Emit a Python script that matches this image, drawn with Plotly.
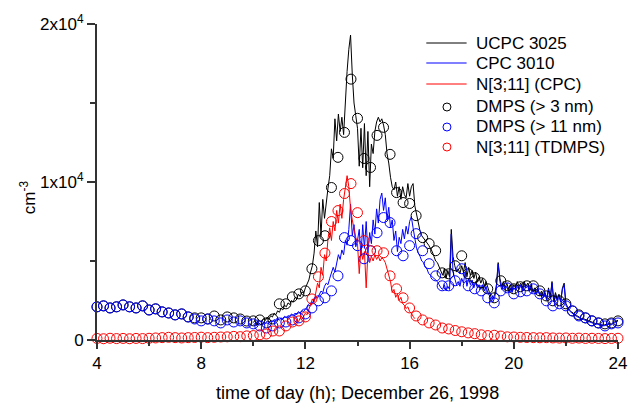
import numpy as np
import plotly.graph_objects as go

# ---- DMPS size-distribution integrals, 15-min resolution from 04:00 to 24:00 ----
dmps_gt3 = [2100, 2160, 2030, 2100, 2220, 2100, 2030, 2160, 1900, 1970, 1780, 1710, 1590, 1650, 1460, 1400,
            1400, 1330, 1520, 1270, 1460, 1400, 1330, 1200, 1210, 1270, 1080, 1330, 2290, 2290, 2730, 2920,
            3110, 4510, 6290, 6600, 9650, 11560, 13140, 16510, 14030, 11490, 10920, 12950, 13460, 11750, 9330, 8700,
            8640, 7870, 6480, 6100, 5650, 4250, 4190, 4700, 5330, 4190, 3940, 3620, 3240, 2670, 3750, 3430,
            3240, 3370, 3430, 3430, 3110, 2790, 2480, 2480, 2290, 1840, 1590, 1400, 1210, 1080, 1020, 1080,
            1210]
dmps_gt11 = [2100, 2160, 2030, 2100, 2220, 2100, 2030, 2160, 1900, 1970, 1780, 1710, 1590, 1650, 1460, 1330,
             1210, 1330, 1210, 1080, 1270, 1140, 1210, 1080, 1020, 890, 760, 890, 1080, 1140, 1270, 1400,
             1650, 2030, 2480, 2670, 3110, 4060, 6480, 6290, 5970, 5140, 5650, 6790, 7750, 7430, 5650, 5330,
             5970, 6730, 5650, 4830, 4060, 3430, 3430, 3750, 4510, 3430, 3240, 3110, 2670, 2350, 3110, 3300,
             2920, 3050, 3110, 3240, 2920, 2480, 2160, 2290, 2160, 1840, 1520, 1400, 1210, 1080, 890, 1020,
             1080]
dmps_3_11 = [100, 80, 110, 90, 100, 80, 100, 90, 110, 130, 150, 170, 150, 130, 150, 160,
             180, 150, 170, 190, 200, 230, 210, 260, 280, 330, 380, 570, 570, 890, 1140, 1210,
             1460, 2600, 4000, 5500, 7500, 8190, 9270, 9900, 8060, 6290, 5650, 5650, 5520, 4060, 3240, 2670,
             2030, 1520, 1270, 1080, 950, 760, 700, 600, 520, 450, 400, 330, 280, 300, 250, 200,
             190, 170, 160, 150, 140, 150, 130, 120, 130, 110, 120, 100, 110, 100, 90, 100,
             110]

# ---- CPC counters, 4-min averages from 10:00 to 24:00 (one row per hour) ----
ucpc_3025 = (
    [1100, 1250, 1050, 1300, 1150, 1200, 1350, 1250, 1450, 1300, 1550, 1450, 1700, 1600, 1850]
    + [1750, 2000, 1900, 2200, 2100, 2350, 2250, 2500, 2400, 2700, 2600, 2900, 2750, 3050, 2950]
    + [3300, 3600, 3800, 4300, 4700, 5500, 6900, 5900, 8700, 6600, 8900, 7700, 8800, 9600, 10400]
    + [12100, 11500, 14000, 12600, 14300, 13200, 14100, 13000, 15300, 17000, 18400, 19300, 16800, 15000, 14200]
    + [13400, 11000, 13400, 10900, 13700, 10400, 13200, 9700, 12400, 11800, 13200, 13800, 14100, 13800, 14000]
    + [13600, 13000, 11800, 11200, 10300, 9700, 9500, 10000, 9100, 9700, 8900, 9700, 9200, 9000, 9900]
    + [9100, 9700, 9900, 8500, 7900, 7300, 6900, 6600, 6450, 6300, 6200, 6000, 5800, 5600, 5300]
    + [5000, 4900, 4600, 4300, 4100, 4500, 3900, 4400, 4000, 7000, 5300, 4700, 4300, 4500, 4200]
    + [4700, 4300, 4900, 4000, 4600, 4100, 4400, 3900, 4300, 3700, 4000, 3600, 3900, 3400, 3700]
    + [3300, 3000, 2700, 2600, 2900, 3500, 4900, 3900, 3400, 3700, 3300, 3600, 3200, 3500, 3100]
    + [3500, 3300, 3700, 3400, 3600, 3300, 3700, 3400, 3600, 3200, 3500, 3100, 3300, 3000, 3200]
    + [2900, 3100, 2800, 3000, 2600, 3300, 2700, 3700, 2500, 3000, 2600, 2900, 2500, 3300, 3600]
    + [2300, 2100, 1900, 1800, 1700, 1600, 1550, 1500, 1400, 1350, 1350, 1300, 1250, 1200, 1150]
    + [1150, 1100, 1050, 1050, 1000, 1000, 950, 950, 1000, 1000, 1050, 1000, 1100, 1150, 1200]
    + [1250]
)
cpc_3010 = (
    [950, 1050, 900, 1100, 1000, 950, 1150, 1050, 1200, 1100, 1250, 1150, 1300, 1200, 1350]
    + [1250, 1400, 1300, 1500, 1400, 1550, 1450, 1650, 1550, 1700, 1600, 1800, 1700, 1850, 1800]
    + [1950, 2050, 2200, 2150, 2400, 2500, 2700, 2650, 2900, 3100, 3000, 3400, 3600, 3500, 3900]
    + [4200, 4600, 4300, 5000, 5400, 5100, 5700, 5400, 6300, 6000, 7000, 8600, 6600, 7300, 5900]
    + [6300, 7000, 5300, 7300, 5800, 7500, 5500, 6800, 6100, 7600, 6700, 8300, 7400, 8900, 9300]
    + [8200, 9000, 7600, 8400, 7100, 7600, 6300, 6900, 5600, 6500, 6100, 7000, 6400, 7200, 6700]
    + [7500, 7800, 7100, 6300, 5800, 5500, 5300, 5000, 4900, 4600, 4500, 4200, 4100, 4000, 3900]
    + [3800, 3700, 3500, 3300, 3200, 3500, 3100, 3400, 3200, 6700, 4300, 3800, 3500, 3700, 3400]
    + [3900, 3600, 4300, 3400, 3900, 3500, 3800, 3300, 3700, 3300, 3500, 3200, 3500, 3100, 3400]
    + [3000, 2800, 2500, 2400, 2700, 3300, 4800, 3700, 3200, 3500, 3200, 3400, 3000, 3300, 3000]
    + [3300, 3200, 3500, 3200, 3500, 3100, 3600, 3300, 3400, 3100, 3400, 3000, 3200, 2900, 3100]
    + [2800, 3000, 2700, 2900, 2500, 3200, 2600, 3600, 2400, 2900, 2500, 2800, 2400, 3200, 3500]
    + [2200, 2000, 1850, 1750, 1650, 1550, 1500, 1450, 1350, 1300, 1300, 1250, 1200, 1150, 1100]
    + [1100, 1050, 1000, 1000, 950, 950, 900, 900, 950, 950, 1000, 950, 1050, 1100, 1150]
    + [1200]
)
# N[3;11] from the two counters, 4-min averages from 11:36 to 16:12
cpc_3_11 = (
    [1100, 1250, 1150, 1400, 1300, 1550]
    + [1700, 1600, 1950, 2200, 2600, 2400, 3100, 3600, 3300, 4600, 4100, 5400, 5000, 6400, 7100]
    + [6300, 7500, 6900, 8200, 7400, 8600, 7700, 8900, 9600, 10400, 9700, 8300, 7600, 6900, 6500]
    + [6100, 4200, 5800, 5100, 5600, 3300, 5500, 4900, 5300, 5000, 5400, 5100, 5300, 5000, 5200]
    + [5100, 4900, 4500, 4200, 3700, 3000, 3200, 2700, 2900, 2500, 2700, 2300, 2200, 2000, 2100]
    + [1800, 1700, 1500, 1350]
)

# time bases (hours of day)
t_dmps = 4.0 + 0.25 * np.arange(len(dmps_gt3))
t_cpc = 10.0 + np.arange(len(ucpc_3025)) / 15.0
t_cpc_3_11 = 11.6 + np.arange(len(cpc_3_11)) / 15.0

x_ticks = [4, 8, 12, 16, 20, 24]
y_ticks = [0, 10000, 20000]
y_ticktext = ["0", "1x10<sup>4</sup>", "2x10<sup>4</sup>"]

BLACK, BLUE, RED = "#000000", "#0000ff", "#ff0000"
FONT = "Arial, Liberation Sans, sans-serif"

# page geometry (pixels) used to place the key box
W, H = 638, 403
ML, MR, MT, MB = 97, 11, 24, 63
PW, PH = W - ML - MR, H - MT - MB


def px_x(px):
    return (px - ML) / PW


def px_y(py):
    return (H - MB - py) / PH


fig = go.Figure()
line_series = [
    ("UCPC 3025", t_cpc, ucpc_3025, BLACK),
    ("CPC 3010", t_cpc, cpc_3010, BLUE),
    ("N[3;11] (CPC)", t_cpc_3_11, cpc_3_11, RED),
]
marker_series = [
    ("DMPS (> 3 nm)", dmps_gt3, BLACK),
    ("DMPS (> 11 nm)", dmps_gt11, BLUE),
    ("N[3;11] (TDMPS)", dmps_3_11, RED),
]
for name, t, y, c in line_series:
    fig.add_trace(go.Scatter(x=t, y=y, mode="lines", name=name, showlegend=False,
                             line=dict(color=c, width=1)))
for name, y, c in marker_series:
    fig.add_trace(go.Scatter(x=t_dmps, y=y, mode="markers", name=name, cliponaxis=False,
                             showlegend=False,
                             marker=dict(symbol="circle-open", size=10, color=c,
                                         line=dict(width=1, color=c))))

# key: line samples / open circles with labels
key_rows = [43, 63, 84, 107, 127, 147]
shapes = []
annotations = []
for i, (row_y, (name, c)) in enumerate(zip(key_rows,
                                         [(s[0], s[3]) for s in line_series] +
                                         [(s[0], s[2]) for s in marker_series])):
    if i < 3:
        shapes.append(dict(type="line", xref="paper", yref="paper",
                           x0=px_x(432), x1=px_x(473), y0=px_y(row_y), y1=px_y(row_y),
                           line=dict(color=c, width=1)))
    else:
        shapes.append(dict(type="circle", xref="paper", yref="paper",
                           xsizemode="pixel", ysizemode="pixel",
                           xanchor=px_x(453), yanchor=px_y(row_y),
                           x0=-4, x1=4, y0=-4, y1=4,
                           line=dict(color=c, width=1)))
    annotations.append(dict(text=name, xref="paper", yref="paper",
                            x=px_x(481), y=px_y(row_y), xanchor="left", yanchor="middle",
                            showarrow=False, font=dict(family=FONT, size=17, color="#000000")))

axis_common = dict(showgrid=False, zeroline=False, showline=True, linecolor="#333333",
                   linewidth=2, ticks="outside", tickcolor="#333333", tickwidth=1.5,
                   tickfont=dict(family=FONT, size=17, color="#000000"))

fig.update_xaxes(range=[4, 24], tickvals=x_ticks, ticklen=7,
                 minor=dict(ticks="outside", tickvals=[6, 10, 14, 18, 22], ticklen=4,
                            tickcolor="#333333", tickwidth=1.5),
                 **axis_common)
fig.update_yaxes(range=[0, 20000], tickvals=y_ticks, ticktext=y_ticktext, ticklen=8,
                 minor=dict(ticks="outside", tickvals=[5000, 15000], ticklen=5,
                            tickcolor="#333333", tickwidth=1.5),
                 **axis_common)

annotations.append(dict(text="time of day (h); December 26, 1998", xref="paper", yref="paper",
                        x=0.5, y=px_y(393), xanchor="center", yanchor="middle", showarrow=False,
                        font=dict(family=FONT, size=18, color="#000000")))
annotations.append(dict(text="cm<sup>-3</sup>", xref="paper", yref="paper",
                        x=px_x(27), y=px_y(197), xanchor="center", yanchor="middle",
                        textangle=-90, showarrow=False,
                        font=dict(family=FONT, size=17, color="#000000")))

fig.update_layout(
    width=W, height=H,
    margin=dict(l=ML, r=MR, t=MT, b=MB),
    paper_bgcolor="white", plot_bgcolor="white",
    showlegend=False,
    shapes=shapes,
    annotations=annotations,
)

fig.write_html("out.html")
